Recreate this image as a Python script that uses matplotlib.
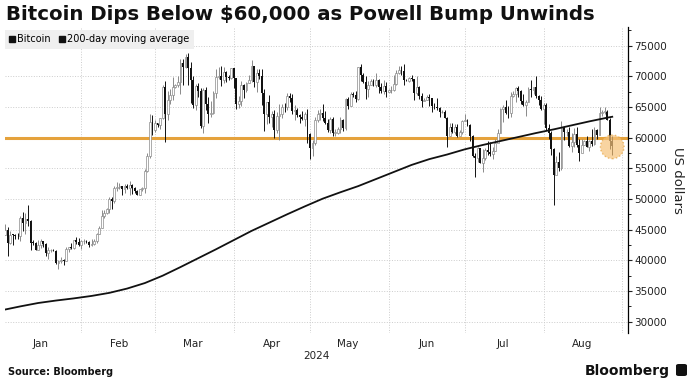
import matplotlib
matplotlib.use("Agg")
import numpy as np
import pandas as pd
import matplotlib.pyplot as plt
import matplotlib.dates as mdates
from matplotlib.lines import Line2D
from matplotlib.patches import FancyBboxPatch

plt.rcParams['font.family'] = ['DejaVu Sans']

# Bitcoin daily candles, 1 Jan - 28 Aug 2024 (open = previous close)
first_open = 42280
close = [
    # Jan
    44180, 44960, 42850, 44180, 44160, 43970, 43930, 46970, 46120, 46660, 46340, 42890, 42850, 41730, 42510, 43150,
    42740, 41260, 41620, 41660, 41580, 39570, 39900, 40080, 39950, 41820, 42120, 42030, 43300, 42940, 42580,
    # Feb
    43080, 43200, 43010, 42580, 42660, 43080, 44340, 45300, 47150, 47770, 48290, 49960, 49700, 51800, 51940,
    52160, 51660, 52120, 51780, 52260, 51840, 51300, 50730, 51570, 51730, 54520, 57080, 62500, 61200,
    # Mar
    62440, 62030, 63170, 68330, 63800, 66110, 66930, 68300, 68500, 69020, 72120, 71480, 73080, 71400, 69400, 65300,
    68390, 67610, 61940, 67840, 65500, 63780, 64060, 67230, 69960, 69990, 69450, 70740, 69890, 69650, 71330,
    # Apr
    69700, 65450, 65980, 68510, 67840, 68900, 69360, 71620, 69140, 70590, 70060, 67200, 63820, 65740, 63430,
    63810, 61280, 63510, 63840, 64990, 64940, 66840, 66410, 64280, 64500, 63760, 63420, 63110, 63840, 60640,
    # May
    58250, 59120, 62890, 63890, 64030, 63160, 62330, 61190, 63050, 60790, 60800, 61450, 62900, 61550, 66270, 65230,
    67050, 66940, 66280, 71450, 70140, 69120, 67930, 68530, 69290, 68500, 69400, 68300, 67580, 68360, 67490,
    # Jun
    67710, 67750, 68800, 70570, 71080, 70790, 69340, 69310, 69650, 69510, 67320, 68240, 66750, 66010, 66190,
    66640, 66490, 65140, 64960, 64830, 64100, 64250, 63180, 60280, 61800, 60860, 61670, 60320, 60890, 62680,
    # Jul
    62850, 62030, 60200, 57060, 56660, 58230, 55850, 56700, 58050, 57720, 57340, 57890, 59200, 60800, 64720, 65040,
    64090, 63970, 66710, 67160, 68160, 67550, 65930, 65370, 65800, 67910, 67810, 68250, 66780, 66190, 64620,
    # Aug
    65350, 61500, 60680, 58120, 53990, 56030, 55030, 61710, 60880, 60940, 58710, 59350, 60610, 58740, 57560, 58870,
    59480, 58480, 59490, 59010, 61180, 60380, 64090, 64180, 64250, 62880, 59500, 58600,
]
high = [
    44200, 45900, 45500, 44730, 44340, 44270, 44490, 47200, 47890, 47700, 48970, 46500, 43250, 43070, 43380, 43560,
    43190, 42900, 42160, 41870, 41870, 41670, 40130, 40480, 40280, 42200, 42210, 42810, 43320, 43840, 43720,
    43290, 43480, 43380, 43120, 43500, 43400, 44490, 45590, 48180, 48150, 48550, 50280, 50350, 52040, 52820,
    52570, 52180, 52390, 52490, 52980, 52370, 52000, 51540, 51680, 51950, 54900, 57550, 63910, 63680,
    62920, 62430, 63230, 68530, 69170, 67630, 67990, 69960, 68660, 70000, 72800, 72850, 73640, 73750, 72400, 70000,
    68800, 68900, 68100, 68030, 68200, 66650, 65950, 67600, 71150, 71500, 71670, 71550, 70900, 70270, 71340,
    71330, 69700, 66850, 69200, 68700, 69000, 70200, 72710, 71740, 71140, 71250, 71220, 67930, 65830, 66870,
    64320, 64450, 64110, 65450, 65410, 65700, 67220, 67200, 67100, 65280, 64770, 63920, 64320, 64210, 64700,
    60800, 59580, 63300, 64490, 64640, 65470, 64360, 62980, 63420, 63440, 61390, 61800, 63420, 63080, 66420, 66680,
    67370, 67390, 67650, 71480, 71920, 70590, 70030, 69160, 69540, 69550, 70600, 69550, 68860, 69460, 69030,
    67850, 68420, 70260, 71050, 71740, 71620, 71950, 69540, 69860, 70150, 69560, 69980, 68430, 67320, 66420,
    66980, 67190, 66530, 65700, 66440, 65000, 64500, 64520, 63350, 62420, 62320, 62300, 62170, 61220, 62930,
    63790, 62980, 62230, 60490, 57480, 58480, 58250, 58200, 58300, 59450, 59330, 58500, 59820, 61400, 64870, 65350,
    66090, 65110, 67400, 67590, 68320, 68480, 67790, 67100, 66120, 68220, 69400, 68300, 70000, 66950, 66810,
    65600, 65580, 62190, 61100, 58300, 57030, 57700, 62730, 61750, 61460, 61780, 60700, 61580, 61770, 59830, 59800,
    59650, 60250, 59600, 61380, 61750, 61370, 64930, 64500, 65010, 64480, 63200, 60200,
]
low = [
    42200, 44150, 40750, 42630, 42500, 43400, 43560, 43200, 44750, 44350, 45620, 41750, 42450, 41720, 41700, 42050,
    42200, 40630, 40280, 41440, 41500, 39480, 38550, 39490, 39260, 39840, 41400, 41880, 41810, 42700, 42300,
    41880, 42600, 42880, 42250, 42260, 42580, 42800, 44330, 45250, 46850, 47560, 47710, 48360, 49280, 51330,
    51580, 50670, 51030, 51690, 50600, 50830, 50950, 50570, 50580, 51280, 50900, 54450, 56700, 60440,
    60860, 61700, 61360, 62990, 59220, 62850, 65560, 66200, 68040, 68260, 67190, 68620, 71340, 68550, 65600, 64780,
    64560, 66650, 61600, 60800, 64580, 62330, 63430, 63830, 66400, 69520, 68480, 68900, 69120, 69330, 69610,
    68100, 64620, 64750, 65110, 66400, 67470, 68850, 69060, 68210, 67500, 69570, 65250, 61050, 62290, 62380,
    61700, 59860, 60800, 59620, 63190, 64250, 64530, 65870, 63840, 62800, 63340, 62450, 62840, 61830, 59190,
    56560, 56950, 58800, 62620, 62950, 62720, 62230, 60890, 60800, 60190, 60290, 60640, 60760, 61140, 61320, 64600,
    65100, 66640, 65860, 66080, 69180, 68900, 66340, 66650, 68540, 68370, 68250, 67290, 67210, 67170, 66680,
    67390, 67300, 67620, 68580, 70400, 70160, 68520, 69230, 69140, 69240, 66100, 66900, 66350, 65070, 65890,
    66090, 65130, 64120, 64720, 64570, 63400, 63950, 63180, 58450, 60240, 60730, 60630, 60080, 60400, 60640,
    62760, 61850, 59450, 56800, 53550, 56000, 55830, 54350, 56330, 57170, 57080, 56550, 57760, 59470, 60700, 62500,
    63880, 63240, 63320, 66550, 65800, 66640, 65460, 65130, 63450, 65790, 66700, 67050, 66490, 65320, 64560,
    62300, 61200, 59850, 57230, 49050, 54000, 54550, 54730, 59600, 60300, 58430, 57690, 58500, 58450, 56200, 57720,
    58790, 58420, 57860, 58650, 58800, 59840, 60350, 63590, 63820, 62820, 58120, 57150,
]

# 200-day moving average
ma_dates = ["2024-01-01", "2024-01-08", "2024-01-15", "2024-01-22", "2024-01-29", "2024-02-05",
            "2024-02-12", "2024-02-19", "2024-02-26", "2024-03-04", "2024-03-11", "2024-03-18",
            "2024-03-25", "2024-04-01", "2024-04-08", "2024-04-15", "2024-04-22", "2024-04-29",
            "2024-05-06", "2024-05-13", "2024-05-20", "2024-05-27", "2024-06-03", "2024-06-10",
            "2024-06-17", "2024-06-24", "2024-07-01", "2024-07-08", "2024-07-15", "2024-07-22",
            "2024-07-29", "2024-08-05", "2024-08-12", "2024-08-19", "2024-08-26", "2024-08-28"]
ma_values = [31900, 32500, 33050, 33450, 33800, 34200, 34700, 35400, 36300, 37500, 38900, 40350,
             41800, 43300, 44800, 46150, 47500, 48800, 50050, 51100, 52100, 53250, 54400, 55550,
             56500, 57250, 58100, 58800, 59450, 60100, 60750, 61350, 62000, 62650, 63250, 63400]

title = "Bitcoin Dips Below $60,000 as Powell Bump Unwinds"
threshold = 60000
orange = "#e5a23c"

dates = pd.date_range("2024-01-01", periods=len(close), freq="D")
x = mdates.date2num(dates)
c = np.array(close, dtype=float)
o = np.array([first_open] + close[:-1], dtype=float)
h = np.array(high, dtype=float)
l = np.array(low, dtype=float)
up = c >= o

fig = plt.figure(figsize=(6.93, 3.9), dpi=100)
ax = fig.add_axes([5 / 693, 1 - 333 / 390, 623 / 693, 306 / 390])

# candles
ax.vlines(x[up], l[up], h[up], color="#8a8a8a", lw=0.7, zorder=3)
ax.vlines(x[~up], l[~up], h[~up], color="#111111", lw=0.7, zorder=3)
body = np.maximum(np.abs(c - o), 80)
bottom = np.minimum(c, o)
ax.bar(x[up], body[up], bottom=bottom[up], width=0.72, facecolor="white",
       edgecolor="#8a8a8a", lw=0.5, zorder=4)
ax.bar(x[~up], body[~up], bottom=bottom[~up], width=0.72, color="#111111",
       lw=0, zorder=4)

# 200-day MA
ax.plot(mdates.date2num(pd.to_datetime(ma_dates)), ma_values, color="#111111", lw=1.3, zorder=5)

# 60k line and highlight
ax.axhline(threshold, color=orange, lw=2.2, zorder=2)
ax.scatter([x[-1]], [58500], s=290, facecolor="#f6c27a", alpha=0.7, edgecolor=orange,
           linestyle=":", linewidths=1.0, zorder=6)

ax.set_xlim(mdates.date2num(pd.Timestamp("2024-01-01")) + 0.94,
            mdates.date2num(pd.Timestamp("2024-01-01")) + 246.2)
ax.set_ylim(28160, 78030)

for s in ["top", "left", "bottom"]:
    ax.spines[s].set_visible(False)
ax.spines["right"].set_linewidth(0.9)

ax.yaxis.tick_right()
ax.yaxis.set_label_position("right")
ax.set_yticks(np.arange(30000, 75001, 5000))
ax.set_yticks(np.arange(30000, 77501, 2500), minor=True)
ax.tick_params(axis="y", which="major", length=3, width=0.8, pad=1.5, labelsize=7.5, colors="#222222")
ax.tick_params(axis="y", which="minor", length=2, width=0.6)
ax.set_ylabel("US dollars", rotation=270, fontsize=9.5, labelpad=12, color="#222222")

ax.xaxis.set_major_locator(mdates.MonthLocator())
ax.xaxis.set_major_formatter(plt.NullFormatter())
ax.xaxis.set_minor_locator(mdates.MonthLocator(bymonthday=16))
ax.xaxis.set_minor_formatter(mdates.DateFormatter("%b"))
ax.tick_params(axis="x", which="both", length=0, labelsize=7.5, colors="#222222", pad=4)
ax.set_xlabel("2024", fontsize=7.5, labelpad=2, color="#222222")

ax.grid(which="major", axis="both", color="#cccccc", ls=":", lw=0.7, zorder=0)
ax.set_axisbelow(True)

handles = [Line2D([], [], marker="s", ls="none", color="#111111", markersize=5),
           Line2D([], [], marker="s", ls="none", color="#111111", markersize=5)]
leg = ax.legend(handles, ["Bitcoin", "200-day moving average"], loc="upper left",
                bbox_to_anchor=(0, 0.99), ncol=2, fontsize=7, frameon=True, fancybox=False,
                handlelength=0.6, handletextpad=0.2, columnspacing=0.9, borderaxespad=0,
                borderpad=0.45)
leg.get_frame().set_facecolor("#efefef")
leg.get_frame().set_edgecolor("none")
leg.get_frame().set_alpha(1)

fig.text(0.008, 0.962, title, fontsize=14.2, weight="bold", va="center", color="#111111")
fig.text(0.012, 0.045, "Source: Bloomberg", fontsize=7, weight="bold", va="center", color="#111111")
fig.text(0.966, 0.048, "Bloomberg", fontsize=10, weight="bold", ha="right", va="center", color="#111111")
fig.patches.append(FancyBboxPatch((676 / 693, 14 / 390), 11 / 693, 12 / 390,
                                  boxstyle="round,pad=0,rounding_size=0.004",
                                  transform=fig.transFigure, facecolor="#111111", edgecolor="none"))

fig.savefig("out.png", dpi=100)
